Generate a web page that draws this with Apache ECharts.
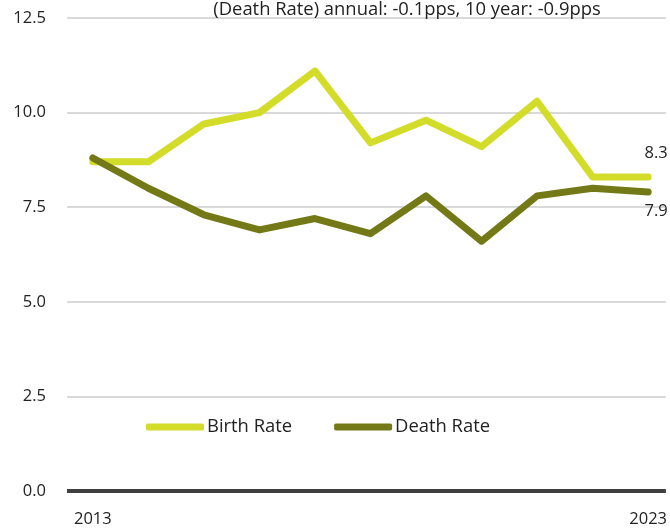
<!DOCTYPE html>
<html>
<head>
<meta charset="utf-8">
<script src="https://cdn.jsdelivr.net/npm/echarts@6/dist/echarts.min.js"></script>
<style>html,body{margin:0;padding:0;background:#fff;}#c{width:670px;height:528px;}</style>
</head>
<body>
<div id="c"></div>
<script>
const years = [2013, 2014, 2015, 2016, 2017, 2018, 2019, 2020, 2021, 2022, 2023];
const birthRate = [8.7, 8.7, 9.7, 10.0, 11.1, 9.2, 9.8, 9.1, 10.3, 8.3, 8.3];
const deathRate = [8.8, 8.0, 7.3, 6.9, 7.2, 6.8, 7.8, 6.6, 7.8, 8.0, 7.9];
const xTickLabels = [2013, 2023];
const titleText = '(Death Rate) annual: -0.1pps, 10 year: -0.9pps';

const FONT = 'Open Sans';
const FS = 16.5;
const FS_TEXT = 18.4;
const birthColor = '#d3dc29';
const deathColor = '#747917';

function buildData(vals, labelPos, dist) {
  return vals.map((v, i) => {
    if (i !== vals.length - 1) return [years[i], v];
    return {
      value: [years[i], v], symbol: 'circle', symbolSize: 1,
      label: {
        show: true, position: labelPos, distance: dist, offset: [8, 0],
        formatter: v.toFixed(1), fontFamily: FONT, fontSize: FS, color: '#222'
      }
    };
  });
}

const chart = echarts.init(document.getElementById('c'), null, { renderer: 'canvas' });
chart.setOption({
  animation: false,
  backgroundColor: '#fff',
  textStyle: { fontFamily: FONT },
  title: {
    text: titleText, left: 402, top: -4, textAlign: 'center',
    textStyle: { fontFamily: FONT, fontSize: FS_TEXT, fontWeight: 'normal', color: '#222' }
  },
  grid: { left: 67, right: 0, top: 18, bottom: 37, containLabel: false },
  legend: {
    left: 141, top: 413, itemWidth: 58, itemHeight: 7, itemGap: 42, icon: 'roundRect',
    textStyle: { fontFamily: FONT, fontSize: FS_TEXT, color: '#222', padding: [0, 0, 0, -2] },
    data: ['Birth Rate', 'Death Rate']
  },
  xAxis: {
    type: 'value', min: 2012.535, max: 2023.32,
    axisLine: { show: false },
    axisTick: { show: false },
    splitLine: { show: false },
    axisLabel: {
      customValues: xTickLabels, formatter: v => String(v),
      fontFamily: FONT, fontSize: FS, color: '#222', margin: 20
    }
  },
  yAxis: {
    type: 'value', min: 0, max: 12.5, interval: 2.5,
    axisLine: { show: false }, axisTick: { show: false },
    splitLine: { lineStyle: { color: '#d9d9d9', width: 2 } },
    axisLabel: {
      formatter: v => v.toFixed(1), fontFamily: FONT, fontSize: FS, color: '#222', margin: 21
    }
  },
  series: [
    {
      name: 'Birth Rate', type: 'line', data: buildData(birthRate, 'top', 15),
      symbol: 'none', showSymbol: true, color: birthColor, clip: false,
      lineStyle: { width: 7, color: birthColor, cap: 'round', join: 'round' }, z: 3
    },
    {
      name: 'Death Rate', type: 'line', data: buildData(deathRate, 'bottom', 10),
      symbol: 'none', showSymbol: true, color: deathColor, clip: false,
      lineStyle: { width: 7, color: deathColor, cap: 'round', join: 'round' }, z: 4,
      markLine: {
        silent: true, symbol: 'none', label: { show: false },
        lineStyle: { color: '#404040', width: 4, type: 'solid' },
        data: [{ yAxis: 0 }]
      }
    }
  ]
});
</script>
</body>
</html>
